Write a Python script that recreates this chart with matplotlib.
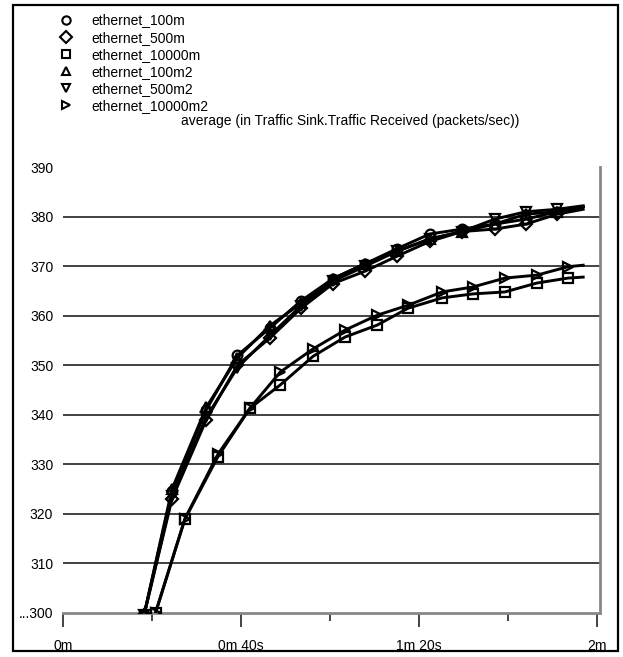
import matplotlib
matplotlib.use("Agg")
import matplotlib.pyplot as plt
from matplotlib.lines import Line2D
from matplotlib.patches import Rectangle

plt.rcParams['font.family'] = ['Liberation Sans', 'DejaVu Sans']

# sample times (seconds) for the two groups of runs
t_short = [18.2, 24.5, 32.2, 39.2, 46.5, 53.5, 60.7, 67.9, 75.0, 82.4, 89.7, 97.0, 104.0, 111.0, 116.9]
t_long = [20.8, 27.4, 34.8, 42.0, 48.8, 56.2, 63.4, 70.6, 77.5, 85.2, 92.1, 99.3, 106.5, 113.5, 116.9]

# average traffic received (packets/sec)
eth_100m = [299.5, 324.5, 341.0, 352.0, 357.5, 363.0, 367.5, 370.5, 373.5, 376.5, 377.5, 378.5, 379.5, 381.0, 382.0]
eth_500m = [299.5, 323.0, 339.0, 350.0, 355.5, 361.5, 366.5, 369.0, 372.0, 375.0, 377.0, 377.5, 378.5, 380.5, 381.5]
eth_10000m = [300, 318.9, 331.5, 341.3, 346.0, 351.8, 355.7, 358.1, 361.5, 363.6, 364.4, 364.8, 366.6, 367.6, 367.8]
eth_100m2 = [299.5, 325.0, 341.5, 351.5, 358.0, 362.5, 367.5, 370.5, 373.0, 375.5, 377.0, 378.5, 380.5, 381.0, 382.0]
eth_500m2 = [299.5, 323.5, 339.5, 349.5, 356.0, 362.0, 367.0, 370.0, 373.0, 375.5, 377.0, 379.5, 381.0, 381.5, 382.2]
eth_10000m2 = [300, 319.0, 332.0, 341.3, 348.6, 353.3, 357.1, 360.1, 362.1, 364.8, 365.8, 367.6, 368.2, 369.9, 370.2]

series_names = ["ethernet_100m", "ethernet_500m", "ethernet_10000m",
                "ethernet_100m2", "ethernet_500m2", "ethernet_10000m2"]
series_markers = ["o", "D", "s", "^", "v", ">"]
series_data = [(t_short, eth_100m), (t_short, eth_500m), (t_long, eth_10000m),
               (t_short, eth_100m2), (t_short, eth_500m2), (t_long, eth_10000m2)]

y_ticks = [300, 310, 320, 330, 340, 350, 360, 370, 380, 390]
y_labels = ["...300", "310", "320", "330", "340", "350", "360", "370", "380", "390"]
grid_values = [310, 320, 330, 340, 350, 360, 370, 380]
x_major = [0, 40, 80, 120]
x_major_labels = ["0m", "0m 40s", "1m 20s", "2m"]
x_minor = [20, 60, 100]

W, H = 623, 657
fig = plt.figure(figsize=(W / 100, H / 100), dpi=100)
ax = fig.add_axes([63 / W, 1 - 612.7 / H, (600 - 63) / W, (612.7 - 167.2) / H])

for yv in grid_values:
    ax.axhline(yv, color="#333333", linewidth=1.3, zorder=1)

marker_sizes = {"o": 7.0, "D": 6.0, "s": 7.5, "^": 7.5, "v": 7.5, ">": 7.5}
for (tx, vals), mk in zip(series_data, series_markers):
    ax.plot(tx, vals, color="black", linewidth=2.1, marker=mk, markersize=marker_sizes[mk],
            markerfacecolor="none", markeredgecolor="black", markeredgewidth=1.6,
            markevery=list(range(0, len(vals) - 1)), zorder=3)

ax.set_xlim(0, 120 * (600 - 63) / (597 - 63))
ax.set_ylim(300, 390)

ax.set_xticks(x_major)
ax.set_xticklabels(x_major_labels, fontsize=10)
ax.set_xticks(x_minor, minor=True)
ax.tick_params(axis="x", which="major", length=10, width=1.4, color="#444444", pad=9)
ax.tick_params(axis="x", which="minor", length=6, width=1.4, color="#444444")
ax.set_yticks(y_ticks)
ax.set_yticklabels(y_labels, fontsize=10)
ax.tick_params(axis="y", length=0, pad=7)

for side in ("top", "left"):
    ax.spines[side].set_visible(False)
ax.spines["bottom"].set_color("#888888")
ax.spines["bottom"].set_linewidth(2)
ax.spines["right"].set_color("#888888")
ax.spines["right"].set_linewidth(2)

handles = [Line2D([], [], linestyle="none", marker=mk, markersize=6,
                  markerfacecolor="none", markeredgecolor="black", markeredgewidth=1.5)
           for mk in series_markers]
fig.legend(handles, series_names, loc="upper left",
           bbox_to_anchor=(59 / W, 1 - 13.5 / H), frameon=False, fontsize=10,
           handlelength=1.0, handletextpad=1.3, labelspacing=0.22,
           borderpad=0, borderaxespad=0)

fig.text(350 / W, 1 - 121 / H,
         "average (in Traffic Sink.Traffic Received (packets/sec))",
         ha="center", va="center", fontsize=10)

fig.patches.append(Rectangle((13 / W, 1 - 651 / H), (618 - 13) / W, (651 - 5) / H,
                             transform=fig.transFigure, fill=False,
                             edgecolor="black", linewidth=1.6))

fig.savefig("out.png", dpi=100)
